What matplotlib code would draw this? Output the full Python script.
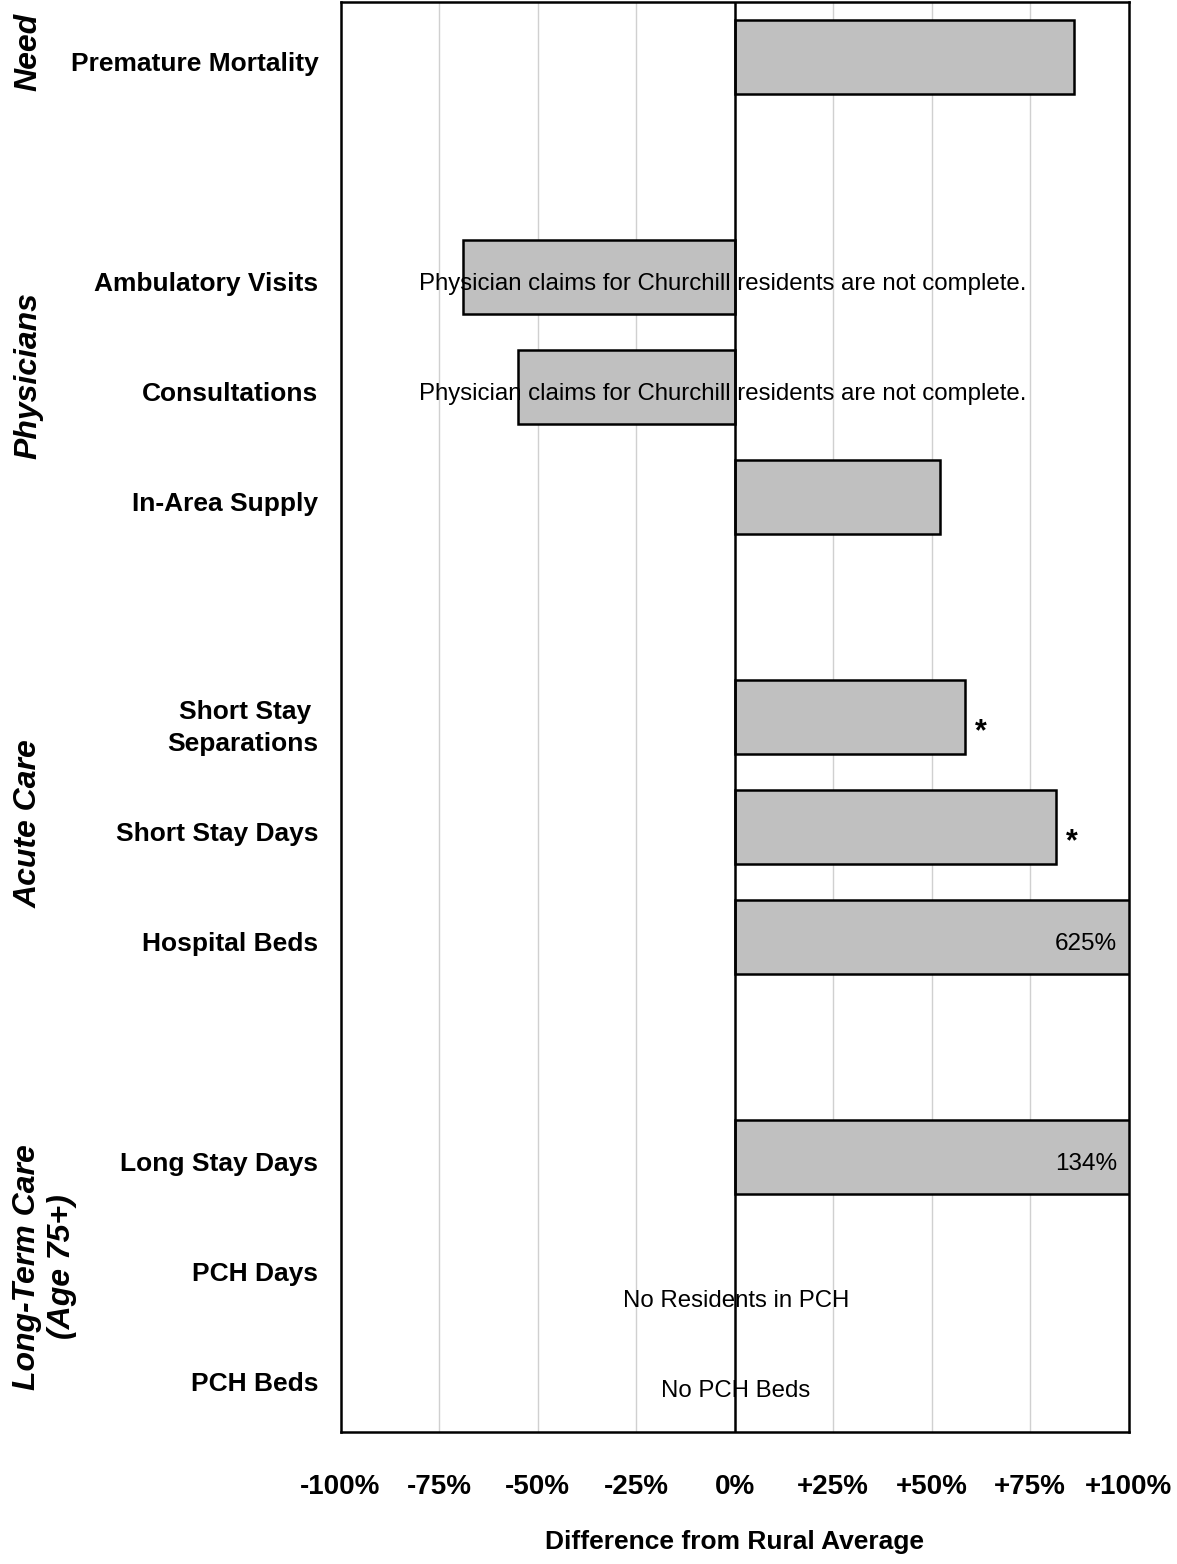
import matplotlib
matplotlib.use('Agg')
import numpy as np
import matplotlib.pyplot as plt

plt.rcParams['font.family'] = ['Liberation Sans', 'DejaVu Sans']

# rows from top to bottom; None = spacer row between groups
categories = ['Premature Mortality', None,
              'Ambulatory Visits', 'Consultations', 'In-Area Supply', None,
              'Short Stay \nSeparations', 'Short Stay Days', 'Hospital Beds', None,
              'Long Stay Days', 'PCH Days', 'PCH Beds']
values = [86, None,
          -69, -55, 52, None,
          58.5, 81.5, 625, None,
          134, None, None]
star_rows = [6, 7]

groups = ['Need', 'Physicians', 'Acute Care', 'Long-Term Care\n(Age 75+)']
group_rows = [-0.05, 2.9, 6.97, 11.0]

ticks = [-100, -75, -50, -25, 0, 25, 50, 75, 100]
tick_labels = ['-100%', '-75%', '-50%', '-25%', '0%', '+25%', '+50%', '+75%', '+100%']

fig = plt.figure(figsize=(11.77, 15.64), dpi=100)
ax = fig.add_axes([0.2893, 0.0844, 0.6697, 0.9143])

ypos = np.arange(len(categories))
for i, v in enumerate(values):
    if v is None:
        continue
    ax.barh(i, v, height=0.667, color='#c0c0c0', edgecolor='black',
            linewidth=1.8, zorder=2)
    if v > 100:
        ax.text(97, i + 0.06, f'{v:.0f}%', ha='right', va='center',
                fontsize=17.5, zorder=5)

for i in star_rows:
    ax.text(values[i] + 4, i + 0.14, '*', ha='center', va='center',
            fontsize=22, fontweight='bold', zorder=5)

# notes for rows without usable data
for r in (2, 3):
    ax.text(-3, r + 0.06, 'Physician claims for Churchill residents are not complete.',
            ha='center', va='center', fontsize=17.3, zorder=5)
ax.text(0.5, 11.31, 'No Residents in PCH', ha='center', va='center', fontsize=17.3, zorder=5)
ax.text(0.3, 12.13, 'No PCH Beds', ha='center', va='center', fontsize=17.3, zorder=5)

ax.axvline(0, color='black', lw=1.8, zorder=4)
for t in ticks[1:-1]:
    if t != 0:
        ax.axvline(t, color='#d0d0d0', lw=1, zorder=0)

ax.set_xlim(-100, 100)
ax.set_ylim(len(categories) - 0.5, -0.5)
# category names sit a touch below the bar centres
ax.set_yticks(ypos + 0.04)
ax.set_yticklabels([c if c else '' for c in categories], fontsize=19,
                   fontweight='bold', ha='right', multialignment='right',
                   linespacing=1.4)
ax.set_xticks(ticks)
ax.set_xticklabels(tick_labels, fontsize=20, fontweight='bold')
ax.tick_params(axis='y', length=0, pad=16)
ax.tick_params(axis='x', length=0, pad=30)
ax.set_xlabel('Difference from Rural Average', fontsize=19,
              fontweight='bold', labelpad=22)
for s in ax.spines.values():
    s.set_linewidth(1.8)

# group labels on the far left
for g, r in zip(groups, group_rows):
    yf = ax.transData.transform((0, r))[1] / fig.bbox.height
    xf = 0.038 if '\n' in g else 0.024
    fig.text(xf, yf, g, rotation=90, ha='center', va='center',
             fontsize=23, fontweight='bold', fontstyle='italic',
             multialignment='center', linespacing=1.2)

fig.savefig('out.png', dpi=100)
